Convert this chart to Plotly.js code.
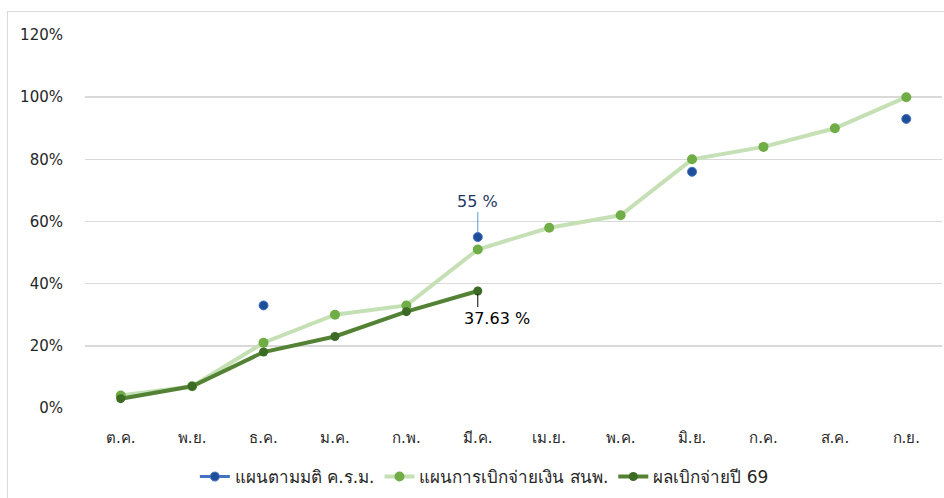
<!DOCTYPE html>
<html>
<head>
<meta charset="utf-8">
<script src="https://cdn.plot.ly/plotly-3.0.1.min.js"></script>
<style>
html,body{margin:0;padding:0;background:#fff;}
#wrap{position:absolute;left:7px;top:11px;width:937px;height:487px;border-left:1px solid #d9d9d9;border-top:1px solid #d9d9d9;}
#chart{width:937px;height:487px;}
</style>
</head>
<body>
<div id="wrap"><div id="chart"></div></div>
<script>
const months = ['ต.ค.','พ.ย.','ธ.ค.','ม.ค.','ก.พ.','มี.ค.','เม.ย.','พ.ค.','มิ.ย.','ก.ค.','ส.ค.','ก.ย.'];
const cabinetPlan = [null, null, 0.33, null, null, 0.55, null, null, 0.76, null, null, 0.93];
const disbursePlan = [0.04, 0.07, 0.21, 0.30, 0.33, 0.51, 0.58, 0.62, 0.80, 0.84, 0.90, 1.00];
const actual69 = [0.03, 0.07, 0.18, 0.23, 0.31, 0.3763, null, null, null, null, null, null];
const seriesNames = ['แผนตามมติ ค.ร.ม.', 'แผนการเบิกจ่ายเงิน สนพ.', 'ผลเบิกจ่ายปี 69'];
const yTicks = [0, 0.2, 0.4, 0.6, 0.8, 1.0, 1.2];
const yTickText = ['0%', '20%', '40%', '60%', '80%', '100%', '120%'];

const FONT = 'Tahoma, "DejaVu Sans", "Noto Sans", sans-serif';

const traces = [
  {
    x: months, y: cabinetPlan, name: seriesNames[0], type: 'scatter', mode: 'lines+markers',
    connectgaps: false,
    line: {color: '#4472c4', width: 3},
    marker: {color: '#1f4e99', size: 9, line: {color: '#4472c4', width: 1}},
    hoverinfo: 'skip'
  },
  {
    x: months, y: disbursePlan, name: seriesNames[1], type: 'scatter', mode: 'lines+markers',
    line: {color: '#c5e0b4', width: 4},
    marker: {color: '#70ad47', size: 10},
    hoverinfo: 'skip'
  },
  {
    x: months, y: actual69, name: seriesNames[2], type: 'scatter', mode: 'lines+markers',
    line: {color: '#548235', width: 4},
    marker: {color: '#3b6b24', size: 9},
    hoverinfo: 'skip'
  }
];

const layout = {
  width: 937, height: 487,
  margin: {l: 77, r: 3, t: 23, b: 91},
  paper_bgcolor: '#ffffff', plot_bgcolor: '#ffffff',
  font: {family: FONT, size: 15, color: '#262626'},
  showlegend: true,
  legend: {orientation: 'h', x: 0.466, xanchor: 'center', y: -0.185, yanchor: 'middle',
           font: {family: FONT, size: 17, color: '#262626'}, itemwidth: 30, tracegroupgap: 0},
  xaxis: {
    type: 'category', categoryarray: months, range: [-0.5, 11.5], showgrid: false, zeroline: false,
    showline: false, ticks: '', ticklabelstandoff: 19,
    tickfont: {family: FONT, size: 15, color: '#262626'}, fixedrange: true
  },
  yaxis: {
    range: [0, 1.2], tickvals: yTicks, ticktext: yTickText,
    showgrid: true, gridcolor: '#d9d9d9', gridwidth: 1.5, zeroline: false,
    showline: false, ticks: '', ticklabelstandoff: 21,
    tickfont: {family: FONT, size: 15, color: '#262626'}, fixedrange: true
  },
  annotations: [
    {x: months[5], y: cabinetPlan[5], xref: 'x', yref: 'y', text: '55 %',
     showarrow: true, ax: 0, ay: -36, arrowhead: 0, arrowwidth: 1, arrowcolor: '#5b9bd5',
     standoff: 5, font: {family: FONT, size: 16, color: '#1f3864'}},
    {x: months[5], y: actual69[5], xref: 'x', yref: 'y', text: ' ',
     showarrow: true, ax: 0, ay: 20, arrowhead: 0, arrowwidth: 1, arrowcolor: '#000000',
     standoff: 3, font: {family: FONT, size: 4, color: '#000'}},
    {x: months[5], y: actual69[5], xref: 'x', yref: 'y', text: '37.63 %',
     showarrow: false, xshift: 19, yshift: -27,
     font: {family: FONT, size: 16, color: '#000000'}}
  ]
};

Plotly.newPlot('chart', traces, layout, {staticPlot: true, displayModeBar: false});
</script>
</body>
</html>
